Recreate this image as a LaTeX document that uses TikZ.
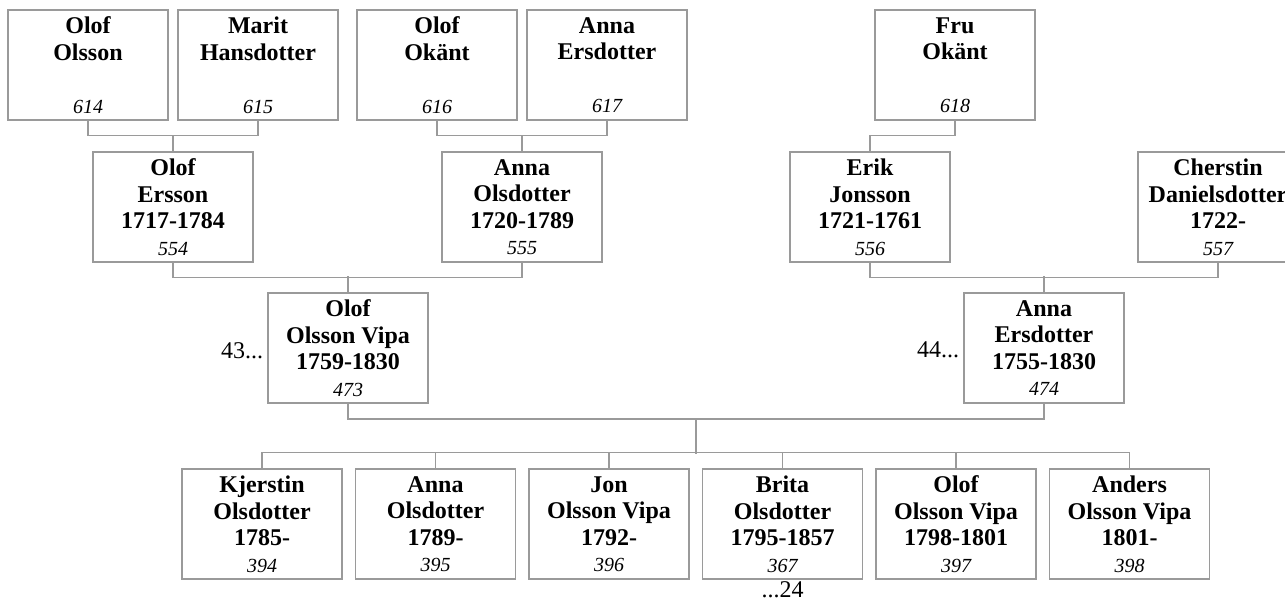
\documentclass[tikz,border=0pt]{standalone}
\usepackage{fontspec}
\setmainfont{Liberation Serif}
\usepackage{tikz}
\usetikzlibrary{positioning, calc}
\definecolor{linegray}{HTML}{9A9A9A}
\newcommand{\nr}[1]{{\fontsize{20}{26.5}\selectfont\mdseries\itshape #1}}

\begin{document}
\begin{tikzpicture}[
    x=1pt, y=-1pt,
    person/.style={rectangle, draw=linegray, line width=1.5pt, minimum width=160pt, minimum height=110pt, inner sep=1pt, align=center, text depth=-7pt, font=\fontsize{24}{26.5}\selectfont\bfseries},
    link/.style={draw=linegray, line width=1.5pt},
    note/.style={inner sep=1pt, font=\fontsize{24}{26.5}\selectfont},
]
    \useasboundingbox (0,0) rectangle (1285,601);

    % great-grandparents
    \node[person] (p614) at (88,65) {Olof\\Olsson\\\strut\\\nr{614}};
    \node[person] (p615) at (258,65) {Marit\\Hansdotter\\\strut\\\nr{615}};
    \node[person] (p616) at (437,65) {Olof\\Okänt\\\strut\\\nr{616}};
    \node[person] (p617) at (607,65) {Anna\\Ersdotter\\\strut\\\nr{617}};
    \node[person] (p618) at (955,65) {Fru\\Okänt\\\strut\\\nr{618}};

    % grandparents
    \node[person] (p554) at (173,207) {Olof\\Ersson\\1717-1784\\\nr{554}};
    \node[person] (p555) at (522,207) {Anna\\Olsdotter\\1720-1789\\\nr{555}};
    \node[person] (p556) at (870,207) {Erik\\Jonsson\\1721-1761\\\nr{556}};
    \node[person] (p557) at (1218,207) {Cherstin\\Danielsdotter\\1722-\\\nr{557}};

    % parents
    \node[person] (p473) at (348,348) {Olof\\Olsson Vipa\\1759-1830\\\nr{473}};
    \node[person] (p474) at (1044,348) {Anna\\Ersdotter\\1755-1830\\\nr{474}};
    \node[note, left=3pt of p473, yshift=-3pt] (n43) {43...};
    \node[note, left=3pt of p474, yshift=-2pt] (n44) {44...};

    % children
    \node[person] (p394) at (262,524) {Kjerstin\\Olsdotter\\1785-\\\nr{394}};
    \node[person, right=12pt of p394] (p395) {Anna\\Olsdotter\\1789-\\\nr{395}};
    \node[person, right=12pt of p395] (p396) {Jon\\Olsson Vipa\\1792-\\\nr{396}};
    \node[person, right=12pt of p396] (p367) {Brita\\Olsdotter\\1795-1857\\\nr{367}};
    \node[person, right=12pt of p367] (p397) {Olof\\Olsson Vipa\\1798-1801\\\nr{397}};
    \node[person, right=12pt of p397] (p398) {Anders\\Olsson Vipa\\1801-\\\nr{398}};
    \node[note, below=0.5pt of p367] (n24) {...24};

    \draw[link] (p614.south) -- ++(0,15) -| (p615.south);
    \draw[link] (p554.north) -- ++(0,-16.5);
    \draw[link] (p616.south) -- ++(0,15) -| (p617.south);
    \draw[link] (p555.north) -- ++(0,-16.5);
    \draw[link] (p618.south) -- ++(0,15) -| (p556.north);

    \draw[link] (p554.south) -- ++(0,15) -| (p555.south);
    \draw[link] (p473.north) -- ++(0,-16);
    \draw[link] (p556.south) -- ++(0,15) -| (p557.south);
    \draw[link] (p474.north) -- ++(0,-16);

    \draw[link] (p473.south) -- ++(0,15) -| (p474.south);
    \draw[link] ($(p473.south)!.5!(p474.south)+(0,15)$) -- ++(0,35);
    \draw[link] (p394.north) -- ++(0,-16) -| (p398.north);
    \foreach \c in {p395,p396,p367,p397}
        \draw[link] (\c.north) -- ++(0,-16);
\end{tikzpicture}
\end{document}
